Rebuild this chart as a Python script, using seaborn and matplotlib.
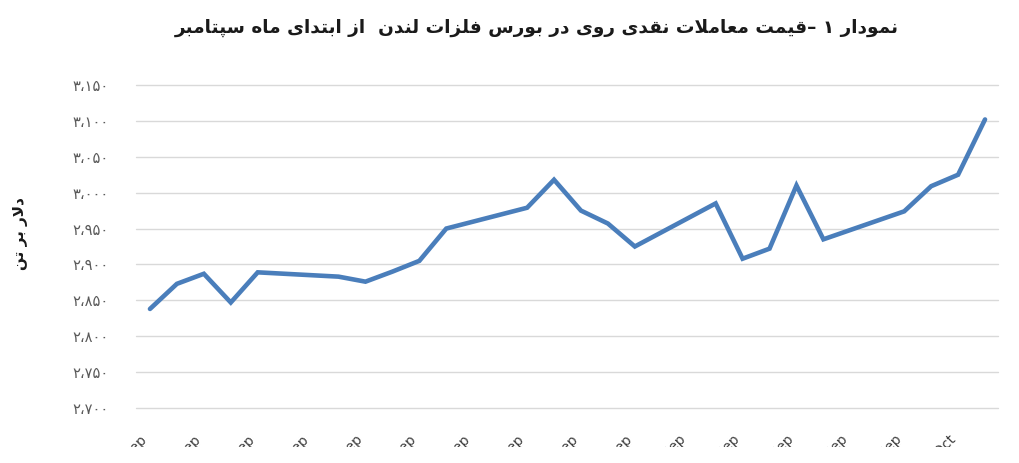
import pandas as pd
import matplotlib
matplotlib.use("Agg")
import matplotlib.pyplot as plt
import matplotlib.ticker as mtick
from matplotlib.patches import Rectangle
import seaborn as sns

# LME zinc cash price, USD per tonne (weekdays only)
dates = [
    "2025-09-01", "2025-09-02", "2025-09-03", "2025-09-04", "2025-09-05",
    "2025-09-08", "2025-09-09", "2025-09-10", "2025-09-11", "2025-09-12",
    "2025-09-15", "2025-09-16", "2025-09-17", "2025-09-18", "2025-09-19",
    "2025-09-22", "2025-09-23", "2025-09-24", "2025-09-25", "2025-09-26",
    "2025-09-29", "2025-09-30", "2025-10-01", "2025-10-02",
]
prices = [
    2838, 2873, 2887, 2847, 2889,
    2883, 2876, 2890, 2905, 2950,
    2979, 3018, 2975, 2957, 2925,
    2985, 2908, 2922, 3010, 2935,
    2974, 3009, 3025, 3102,
]
x_labels = ["1-Sep", "3-Sep", "5-Sep", "7-Sep", "9-Sep", "11-Sep", "13-Sep", "15-Sep",
            "17-Sep", "19-Sep", "21-Sep", "23-Sep", "25-Sep", "27-Sep", "29-Sep", "1-Oct"]
y_ticks = [2700, 2750, 2800, 2850, 2900, 2950, 3000, 3050, 3100, 3150]

title = "نمودار ۱ –قیمت معاملات نقدی روی در بورس فلزات لندن  از ابتدای ماه سپتامبر"
y_title = "دلار بر تن"

# --- minimal Persian shaping (matplotlib has no bidi / joining) ---
FORMS = {
    "ا": ("\uFE8D", "\uFE8E", None, None),
    "ب": ("\uFE8F", "\uFE90", "\uFE91", "\uFE92"),
    "پ": ("\uFB56", "\uFB57", "\uFB58", "\uFB59"),
    "ت": ("\uFE95", "\uFE96", "\uFE97", "\uFE98"),
    "د": ("\uFEA9", "\uFEAA", None, None),
    "ر": ("\uFEAD", "\uFEAE", None, None),
    "ز": ("\uFEAF", "\uFEB0", None, None),
    "س": ("\uFEB1", "\uFEB2", "\uFEB3", "\uFEB4"),
    "ع": ("\uFEC9", "\uFECA", "\uFECB", "\uFECC"),
    "ف": ("\uFED1", "\uFED2", "\uFED3", "\uFED4"),
    "ق": ("\uFED5", "\uFED6", "\uFED7", "\uFED8"),
    "ل": ("\uFEDD", "\uFEDE", "\uFEDF", "\uFEE0"),
    "م": ("\uFEE1", "\uFEE2", "\uFEE3", "\uFEE4"),
    "ن": ("\uFEE5", "\uFEE6", "\uFEE7", "\uFEE8"),
    "ه": ("\uFEE9", "\uFEEA", "\uFEEB", "\uFEEC"),
    "و": ("\uFEED", "\uFEEE", None, None),
    "ی": ("\uFEEF", "\uFEF0", "\uFEF3", "\uFEF4"),
}


def joins_next(c):
    return c in FORMS and FORMS[c][2] is not None


def persian(text):
    res = []
    n = len(text)
    i = 0
    while i < n:
        c = text[i]
        if c not in FORMS:
            res.append(c)
            i += 1
            continue
        prev = text[i - 1] if i > 0 else ""
        link_prev = joins_next(prev)
        if c == "ل" and i + 1 < n and text[i + 1] == "ا":
            res.append("\uFEFC" if link_prev else "\uFEFB")
            i += 2
            continue
        nxt = text[i + 1] if i + 1 < n else ""
        link_next = joins_next(c) and nxt in FORMS
        iso, fin, ini, med = FORMS[c]
        if link_prev and link_next:
            res.append(med)
        elif link_prev:
            res.append(fin)
        elif link_next:
            res.append(ini)
        else:
            res.append(iso)
        i += 1
    return "".join(reversed(res))


def fa_number(v, pos=None):
    digits = str.maketrans("0123456789", "۰۱۲۳۴۵۶۷۸۹")
    return f"{int(round(v)):,}".translate(digits).replace(",", "،")


df = pd.DataFrame({"date": pd.to_datetime(dates), "price": prices})
df["day"] = (df["date"] - df["date"].iloc[0]).dt.days

sns.set_style("white")
plt.rcParams["font.family"] = ["DejaVu Sans"]

fig = plt.figure(figsize=(10.2, 4.63), dpi=100)
ax = fig.add_axes([136.5 / 1020, 55 / 463, 862 / 1020, 323 / 463])

sns.lineplot(data=df, x="day", y="price", ax=ax, color="#4a7ebb",
             linewidth=3.3, solid_capstyle="round", solid_joinstyle="miter")

ax.set_xlim(-0.5, 31.5)
ax.set_ylim(2700, 3150)
ax.set_yticks(y_ticks)
ax.yaxis.set_major_formatter(mtick.FuncFormatter(fa_number))
ax.set_xticks(range(0, 32, 2))
ax.set_xticklabels(x_labels, rotation=45, ha="right")

ax.grid(axis="y", color="#d9d9d9", linewidth=1.0)
ax.grid(axis="x", visible=False)
for g in ax.get_ygridlines():
    g.set_clip_on(False)
for s in ax.spines.values():
    s.set_visible(False)
ax.tick_params(axis="y", length=0, pad=20, labelsize=10.5, labelcolor="#595959")
ax.tick_params(axis="x", length=0, pad=17, labelsize=10, labelcolor="#404040")
ax.set_xlabel("")
ax.set_ylabel("")

fig.text(537 / 1020, 1 - 28 / 463, persian(title), ha="center", va="center",
         fontsize=13.3, fontweight="bold", color="#1a1a1a")
fig.text(21 / 1020, 1 - 233 / 463, persian(y_title), ha="center", va="center",
         rotation=90, fontsize=11, fontweight="bold", color="#1a1a1a")

# the source image is cropped through the date labels
fig.add_artist(Rectangle((0, 0), 1, 16 / 463, transform=fig.transFigure,
                         facecolor="white", edgecolor="none", zorder=10))

fig.savefig("out.png", dpi=100)
